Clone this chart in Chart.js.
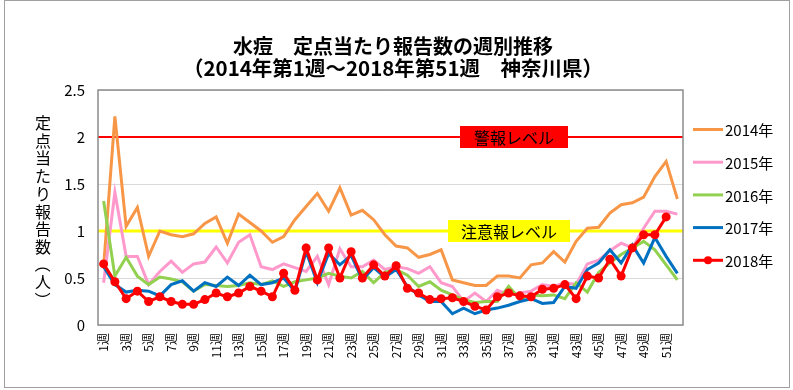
<!DOCTYPE html>
<html>
<head>
<meta charset="utf-8">
<script src="https://cdn.jsdelivr.net/npm/chart.js@4/dist/chart.umd.min.js"></script>
<style>
  html, body { margin: 0; padding: 0; background: #fff; }
</style>
</head>
<body>
<canvas id="weeklychart" width="793" height="390"></canvas>
<script>
// categories
const weeks = ['1週','2週','3週','4週','5週','6週','7週','8週','9週','10週',
  '11週','12週','13週','14週','15週','16週','17週','18週','19週','20週',
  '21週','22週','23週','24週','25週','26週','27週','28週','29週','30週',
  '31週','32週','33週','34週','35週','36週','37週','38週','39週','40週',
  '41週','42週','43週','44週','45週','46週','47週','48週','49週','50週',
  '51週','52週'];

// series (reported per sentinel)
const y2014 = [0.62, 2.22, 1.05, 1.25, 0.73, 1.00, 0.96, 0.94, 0.97, 1.08,
  1.15, 0.87, 1.18, 1.09, 1.00, 0.88, 0.94, 1.12, 1.26, 1.40,
  1.21, 1.46, 1.17, 1.22, 1.12, 0.96, 0.84, 0.82, 0.72, 0.75,
  0.80, 0.48, 0.45, 0.42, 0.42, 0.52, 0.52, 0.50, 0.64, 0.66,
  0.78, 0.67, 0.89, 1.03, 1.04, 1.19, 1.28, 1.30, 1.36, 1.58,
  1.74, 1.34];
const y2015 = [0.45, 1.41, 0.73, 0.73, 0.43, 0.57, 0.68, 0.56, 0.65, 0.67,
  0.83, 0.66, 0.88, 0.96, 0.62, 0.59, 0.65, 0.61, 0.57, 0.73,
  0.43, 0.81, 0.62, 0.62, 0.69, 0.59, 0.62, 0.60, 0.55, 0.62,
  0.45, 0.41, 0.25, 0.34, 0.25, 0.37, 0.32, 0.34, 0.36, 0.43,
  0.41, 0.45, 0.43, 0.65, 0.69, 0.79, 0.87, 0.82, 1.03, 1.21,
  1.21, 1.18];
const y2016 = [1.32, 0.52, 0.72, 0.52, 0.43, 0.51, 0.49, 0.46, 0.36, 0.43,
  0.42, 0.41, 0.42, 0.45, 0.43, 0.47, 0.41, 0.46, 0.48, 0.50,
  0.55, 0.52, 0.50, 0.57, 0.45, 0.56, 0.59, 0.53, 0.41, 0.46,
  0.37, 0.32, 0.27, 0.24, 0.25, 0.25, 0.41, 0.28, 0.32, 0.31,
  0.32, 0.28, 0.45, 0.35, 0.56, 0.66, 0.75, 0.82, 0.89, 0.80,
  0.64, 0.48];
const y2017 = [0.62, 0.43, 0.35, 0.37, 0.36, 0.31, 0.43, 0.47, 0.36, 0.45,
  0.41, 0.51, 0.42, 0.53, 0.43, 0.45, 0.50, 0.36, 0.78, 0.45,
  0.76, 0.64, 0.74, 0.48, 0.61, 0.51, 0.59, 0.41, 0.32, 0.25,
  0.25, 0.12, 0.18, 0.12, 0.16, 0.18, 0.21, 0.25, 0.28, 0.23,
  0.24, 0.41, 0.39, 0.59, 0.66, 0.80, 0.66, 0.85, 0.66, 0.93,
  0.73, 0.55];
const y2018 = [0.65, 0.46, 0.28, 0.36, 0.25, 0.30, 0.25, 0.22, 0.22, 0.27,
  0.34, 0.30, 0.34, 0.41, 0.36, 0.30, 0.55, 0.37, 0.82, 0.48,
  0.82, 0.50, 0.78, 0.50, 0.64, 0.52, 0.63, 0.39, 0.34, 0.27,
  0.28, 0.29, 0.25, 0.20, 0.16, 0.30, 0.34, 0.31, 0.30, 0.38,
  0.39, 0.43, 0.28, 0.52, 0.50, 0.70, 0.52, 0.82, 0.96, 0.96,
  1.15];

const years = ['2014年', '2015年', '2016年', '2017年', '2018年'];
const yTicks = [0, 0.5, 1, 1.5, 2, 2.5];

// thresholds
const alertLevel = 2;     // 警報レベル
const warnLevel = 1;      // 注意報レベル

const titleLines = ['水痘　定点当たり報告数の週別推移', '（2014年第1週～2018年第51週　神奈川県）'];
const yTitle = '定点当たり報告数（人）';

const lineColors = ['#F79646', '#FF99CC', '#92D050', '#0070C0', '#FF0000'];
const FONT = "'Noto Sans CJK JP', 'Noto Sans', sans-serif";

const series = [y2014, y2015, y2016, y2017, y2018];

const data = {
  labels: weeks,
  datasets: series.map((s, i) => ({
    label: years[i],
    data: s,
    borderColor: lineColors[i],
    backgroundColor: lineColors[i],
    borderWidth: 3,
    pointRadius: i === 4 ? 4.5 : 0,
    pointBorderWidth: 0,
    pointBackgroundColor: lineColors[i],
    tension: 0,
    order: 4 - i
  }))
};

// extra drawing: threshold lines, labels, legend, titles, frames
const decor = {
  id: 'decor',
  beforeDatasetsDraw(chart) {
    const ctx = chart.ctx;
    const a = chart.chartArea;
    const y = chart.scales.y;
    ctx.save();
    ctx.lineWidth = 2;
    ctx.strokeStyle = '#FF0000';
    ctx.beginPath();
    ctx.moveTo(a.left, y.getPixelForValue(alertLevel));
    ctx.lineTo(a.right, y.getPixelForValue(alertLevel));
    ctx.stroke();
    ctx.lineWidth = 3;
    ctx.strokeStyle = '#FFFF00';
    ctx.beginPath();
    ctx.moveTo(a.left, y.getPixelForValue(warnLevel));
    ctx.lineTo(a.right, y.getPixelForValue(warnLevel));
    ctx.stroke();
    ctx.restore();
  },
  afterDraw(chart) {
    const ctx = chart.ctx;
    const a = chart.chartArea;
    const y = chart.scales.y;
    ctx.save();

    // plot outline
    ctx.strokeStyle = '#8c8c8c';
    ctx.lineWidth = 1.5;
    ctx.strokeRect(a.left, a.top, a.right - a.left, a.bottom - a.top);

    // level boxes
    ctx.font = '16px ' + FONT;
    ctx.textAlign = 'center';
    ctx.textBaseline = 'middle';
    let py = y.getPixelForValue(alertLevel);
    ctx.fillStyle = '#FF0000';
    ctx.fillRect(460, py - 11, 108, 22);
    ctx.fillStyle = '#000';
    ctx.fillText('警報レベル', 514, py + 1);
    py = y.getPixelForValue(warnLevel);
    ctx.fillStyle = '#FFFF00';
    ctx.fillRect(448, py - 11, 122, 22);
    ctx.fillStyle = '#000';
    ctx.fillText('注意報レベル', 509, py + 1);

    // legend
    ctx.font = '15px ' + FONT;
    ctx.textAlign = 'left';
    years.forEach((yr, i) => {
      const ly = 129.5 + i * 32.7;
      ctx.strokeStyle = lineColors[i];
      ctx.lineWidth = 3;
      ctx.beginPath();
      ctx.moveTo(693, ly);
      ctx.lineTo(723, ly);
      ctx.stroke();
      if (i === 4) {
        ctx.fillStyle = lineColors[i];
        ctx.beginPath();
        ctx.arc(708, ly, 4, 0, Math.PI * 2);
        ctx.fill();
      }
      ctx.fillStyle = '#000';
      ctx.fillText(yr, 725, ly + 1);
    });

    // titles
    ctx.textAlign = 'center';
    ctx.font = 'bold 20px ' + FONT;
    ctx.fillText(titleLines[0], 393, 46);
    ctx.font = 'bold 20.5px ' + FONT;
    ctx.fillText(titleLines[1], 393, 68);

    // vertical y axis title
    ctx.font = '16px ' + FONT;
    [...yTitle].forEach((ch, i) => {
      const cy = 123 + i * 17.7;
      ctx.save();
      ctx.translate(43, cy);
      if (ch === '（' || ch === '）') ctx.rotate(Math.PI / 2);
      ctx.fillText(ch, 0, 0);
      ctx.restore();
    });

    // outer frame
    ctx.strokeStyle = '#a0a0a0';
    ctx.lineWidth = 1;
    ctx.strokeRect(4.5, 0.5, 785, 387);
    ctx.restore();
  }
};

const config = {
  type: 'line',
  data,
  options: {
    responsive: false,
    animation: false,
    layout: {
      padding: { top: 90, right: 110, bottom: 0, left: 0 }
    },
    plugins: {
      legend: { display: false },
      title: { display: false },
      tooltip: { enabled: false }
    },
    scales: {
      x: {
        offset: true,
        grid: { display: false, drawTicks: false },
        border: { display: false },
        afterFit: s => { s.height = 65; },
        ticks: {
          autoSkip: false,
          maxRotation: 90,
          minRotation: 90,
          padding: 8,
          color: '#000',
          font: { family: FONT, size: 12 },
          callback: (v, i) => (i % 2 === 0 ? weeks[i] : '')
        }
      },
      y: {
        min: 0,
        max: 2.5,
        afterFit: s => { s.width = 98; },
        afterBuildTicks: s => { s.ticks = yTicks.map(v => ({ value: v })); },
        grid: { color: '#d9d9d9', lineWidth: 1, drawTicks: false },
        border: { display: false },
        ticks: {
          padding: 13,
          color: '#000',
          font: { family: FONT, size: 15 },
          callback: v => String(v)
        }
      }
    }
  },
  plugins: [decor]
};

const weeklyChart = new Chart(
  document.getElementById('weeklychart'),
  config
);
</script>
</body>
</html>
